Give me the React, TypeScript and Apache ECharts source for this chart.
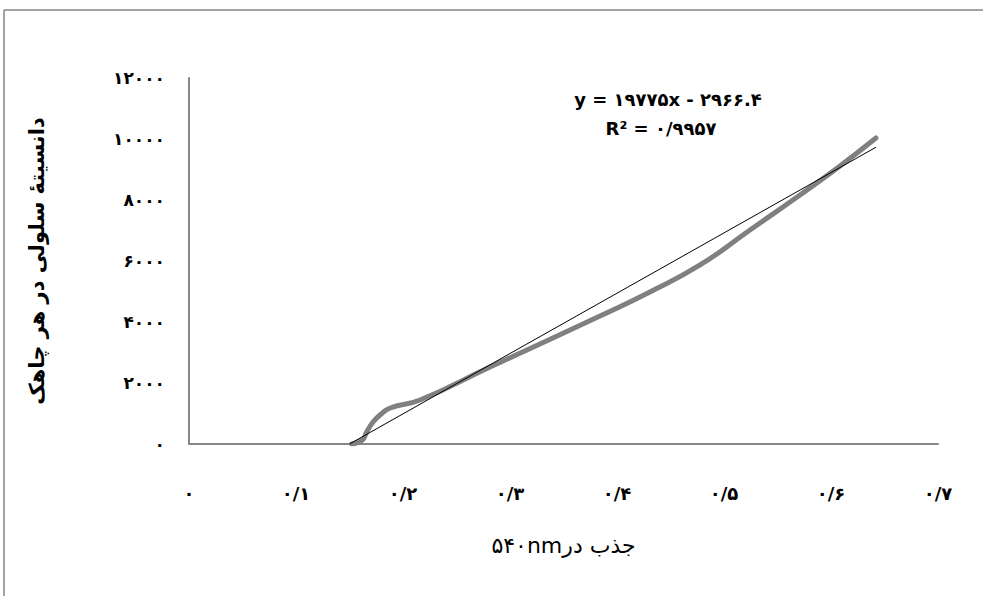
import React, { useEffect, useRef } from "react";
import * as echarts from "echarts";

const curveX = [0.152, 0.162, 0.166, 0.172, 0.1785, 0.188, 0.2159, 0.2813, 0.328, 0.3841, 0.4308, 0.4776, 0.5243, 0.571, 0.6084, 0.642];
const curveY = [0, 130, 390, 720, 950, 1180, 1443, 2525, 3279, 4197, 4984, 5869, 7016, 8164, 9115, 10033];
const trendX = [0.15, 0.642];
const trendY = [0, 9730];
const xTicks = [0, 0.1, 0.2, 0.3, 0.4, 0.5, 0.6, 0.7];
const yTicks = [0, 2000, 4000, 6000, 8000, 10000, 12000];
const equationText = "y = ۱۹۷۷۵x - ۲۹۶۶.۴";
const r2Text = "R² = ۰/۹۹۵۷";
const xName = "جذب در۵۴۰nm";
const yName = "دانسیتهٔ سلولی در هر چاهک";

const fa = "۰۱۲۳۴۵۶۷۸۹";
function toFa(v: number, dec: boolean): string {
  let s = dec ? String(Math.round(v * 10) / 10) : String(Math.round(v));
  s = s.replace(/[0-9]/g, (d) => fa[+d]);
  return s.replace(".", "/");
}

export default function App() {
  const ref = useRef<HTMLDivElement>(null);
  useEffect(() => {
    const chart = echarts.init(ref.current!, null, { renderer: "svg" });
    const font = "'DejaVu Sans', Arial, sans-serif";
    chart.setOption({
      animation: false,
      backgroundColor: "#ffffff",
      grid: { left: 189, right: 45, top: 78, bottom: 152, containLabel: false },
      xAxis: {
        type: "value",
        min: 0,
        max: 0.7,
        interval: 0.1,
        axisLine: { show: true, lineStyle: { color: "#868686", width: 2 } },
        axisTick: { show: false },
        splitLine: { show: false },
        axisLabel: {
          margin: 40,
          color: "#000",
          fontSize: 18,
          fontWeight: "bold",
          fontFamily: font,
          showMaxLabel: true,
          formatter: (v: number) => (xTicks.some((t) => Math.abs(t - v) < 1e-6) ? toFa(v, true) : ""),
        },
        name: "\u202B" + xName + "\u202C",
        nameLocation: "middle",
        nameGap: 90,
        nameTextStyle: { color: "#000", fontSize: 22, fontFamily: font },
      },
      yAxis: {
        type: "value",
        min: 0,
        max: 12000,
        interval: 2000,
        axisLine: { show: true, lineStyle: { color: "#868686", width: 2 } },
        axisTick: { show: false },
        splitLine: { show: false },
        axisLabel: {
          margin: 24,
          color: "#000",
          fontSize: 17,
          fontWeight: "bold",
          fontFamily: font,
          formatter: (v: number) => (yTicks.includes(v) ? toFa(v, false) : ""),
        },
        name: yName,
        nameLocation: "middle",
        nameGap: 142,
        nameRotate: 90,
        nameTextStyle: { color: "#000", fontSize: 21, fontWeight: "bold", fontFamily: font },
      },
      graphic: [
        {
          type: "line",
          shape: { x1: 4, y1: 10, x2: 990, y2: 10 },
          style: { stroke: "#868686", lineWidth: 1.5 },
          silent: true,
        },
        {
          type: "line",
          shape: { x1: 4, y1: 10, x2: 4, y2: 600 },
          style: { stroke: "#868686", lineWidth: 1.5 },
          silent: true,
        },
        {
          type: "text",
          x: 668,
          y: 99,
          style: { text: equationText, fill: "#000", font: `bold 18px ${font}`, align: "center", verticalAlign: "middle" },
        },
        {
          type: "text",
          x: 661,
          y: 128,
          style: { text: r2Text, fill: "#000", font: `bold 18px ${font}`, align: "center", verticalAlign: "middle" },
        },
      ],
      series: [
        {
          type: "line",
          data: curveX.map((x, i) => [x, curveY[i]]),
          smooth: 0.5,
          symbol: "none",
          lineStyle: { color: "#808080", width: 5, cap: "round" },
          z: 2,
        },
        {
          type: "line",
          data: trendX.map((x, i) => [x, trendY[i]]),
          symbol: "none",
          lineStyle: { color: "#000", width: 1 },
          z: 3,
        },
      ],
    });
    return () => chart.dispose();
  }, []);
  return <div ref={ref} style={{ position: "fixed", left: 0, top: 0, width: 983, height: 596 }} />;
}
